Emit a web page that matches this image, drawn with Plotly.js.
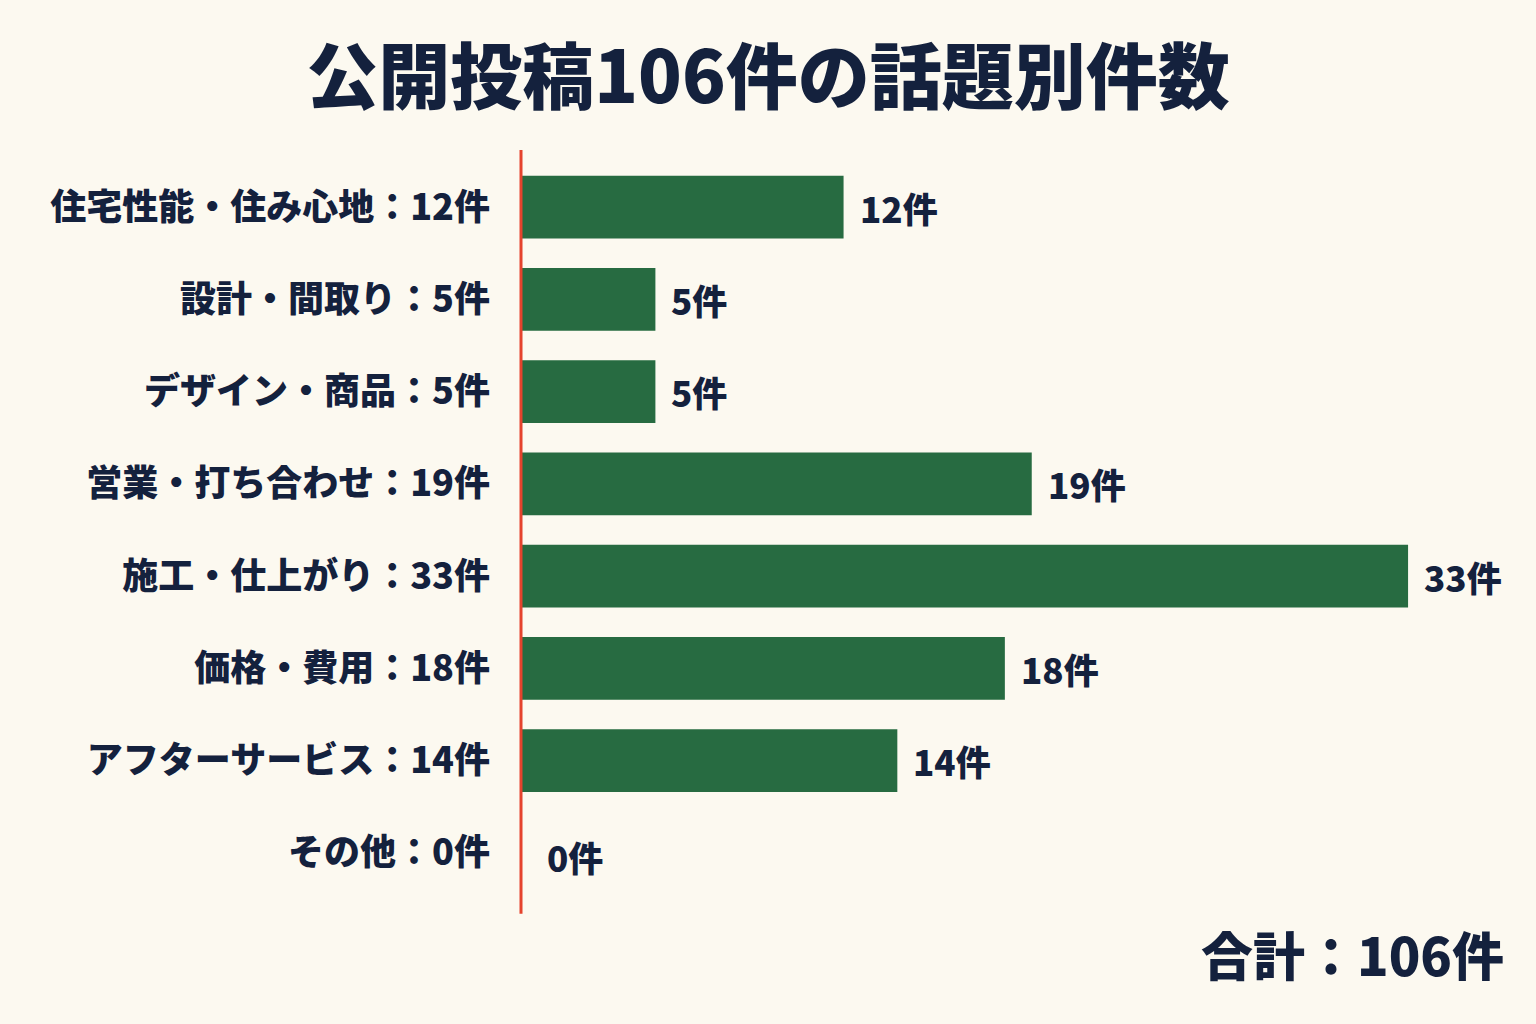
<!DOCTYPE html>
<html>
<head>
<meta charset="utf-8">
<script src="https://cdn.plot.ly/plotly-3.0.1.min.js"></script>
<style>
  html, body { margin: 0; padding: 0; background: #fcf9f0; }
  #chart { width: 1536px; height: 1024px; }
</style>
</head>
<body>
<div id="chart"></div>
<script>
// Topic names and post counts, top to bottom
const topics = ['住宅性能・住み心地', '設計・間取り', 'デザイン・商品', '営業・打ち合わせ', '施工・仕上がり', '価格・費用', 'アフターサービス', 'その他'];
const counts = [12, 5, 5, 19, 33, 18, 14, 0];
const total = 106;

const navy = '#14213d';
const font = '"Noto Sans CJK JP", "Noto Sans", sans-serif';

const tickText = topics.map((t, i) => t + '：' + counts[i] + '件');

const trace = {
    type: 'bar',
    orientation: 'h',
    x: counts,
    y: topics,
    marker: { color: '#276b41' },
    width: 0.68,
    hoverinfo: 'skip'
};

// value labels just past the end of each bar
const valueLabels = counts.map((c, i) => ({
    x: c,
    y: topics[i],
    xref: 'x',
    yref: 'y',
    text: c + '件',
    showarrow: false,
    xanchor: 'left',
    xshift: c === 0 ? 24 : 14,
    yshift: c === 0 ? -4 : 0,
    font: { family: font, size: 35, color: navy, weight: 900 }
}));

const layout = {
    width: 1536,
    height: 1024,
    paper_bgcolor: '#fcf9f0',
    plot_bgcolor: '#fcf9f0',
    margin: { l: 521, r: 36, t: 161, b: 125 },
    showlegend: false,
    title: {
        text: '公開投稿' + total + '件の話題別件数',
        x: 0.5,
        xref: 'container',
        xanchor: 'center',
        y: 0.924,
        yref: 'container',
        yanchor: 'middle',
        font: { family: font, size: 72, color: navy, weight: 900 }
    },
    xaxis: {
        range: [0, 36.42],
        showgrid: false,
        zeroline: false,
        showticklabels: false,
        showline: false,
        fixedrange: true
    },
    yaxis: {
        type: 'category',
        autorange: 'reversed',
        tickvals: topics,
        ticktext: tickText,
        ticks: '',
        ticklabelstandoff: 30,
        showgrid: false,
        zeroline: false,
        showline: false,
        tickfont: { family: font, size: 36, color: navy, weight: 900 }
    },
    // red baseline at zero, paper-referenced so it is not clipped
    shapes: [{
        type: 'line',
        xref: 'paper',
        yref: 'paper',
        layer: 'above',
        x0: 0, x1: 0,
        y0: -0.02, y1: 1.015,
        line: { color: '#e5432d', width: 3 }
    }],
    annotations: valueLabels.concat([{
        text: '合計：' + total + '件',
        xref: 'paper',
        yref: 'paper',
        x: 1.006,
        y: -0.074,
        xanchor: 'right',
        yanchor: 'middle',
        showarrow: false,
        font: { family: font, size: 52, color: navy, weight: 900 }
    }])
};

Plotly.newPlot('chart', [trace], layout, { displayModeBar: false, staticPlot: true });
</script>
</body>
</html>
